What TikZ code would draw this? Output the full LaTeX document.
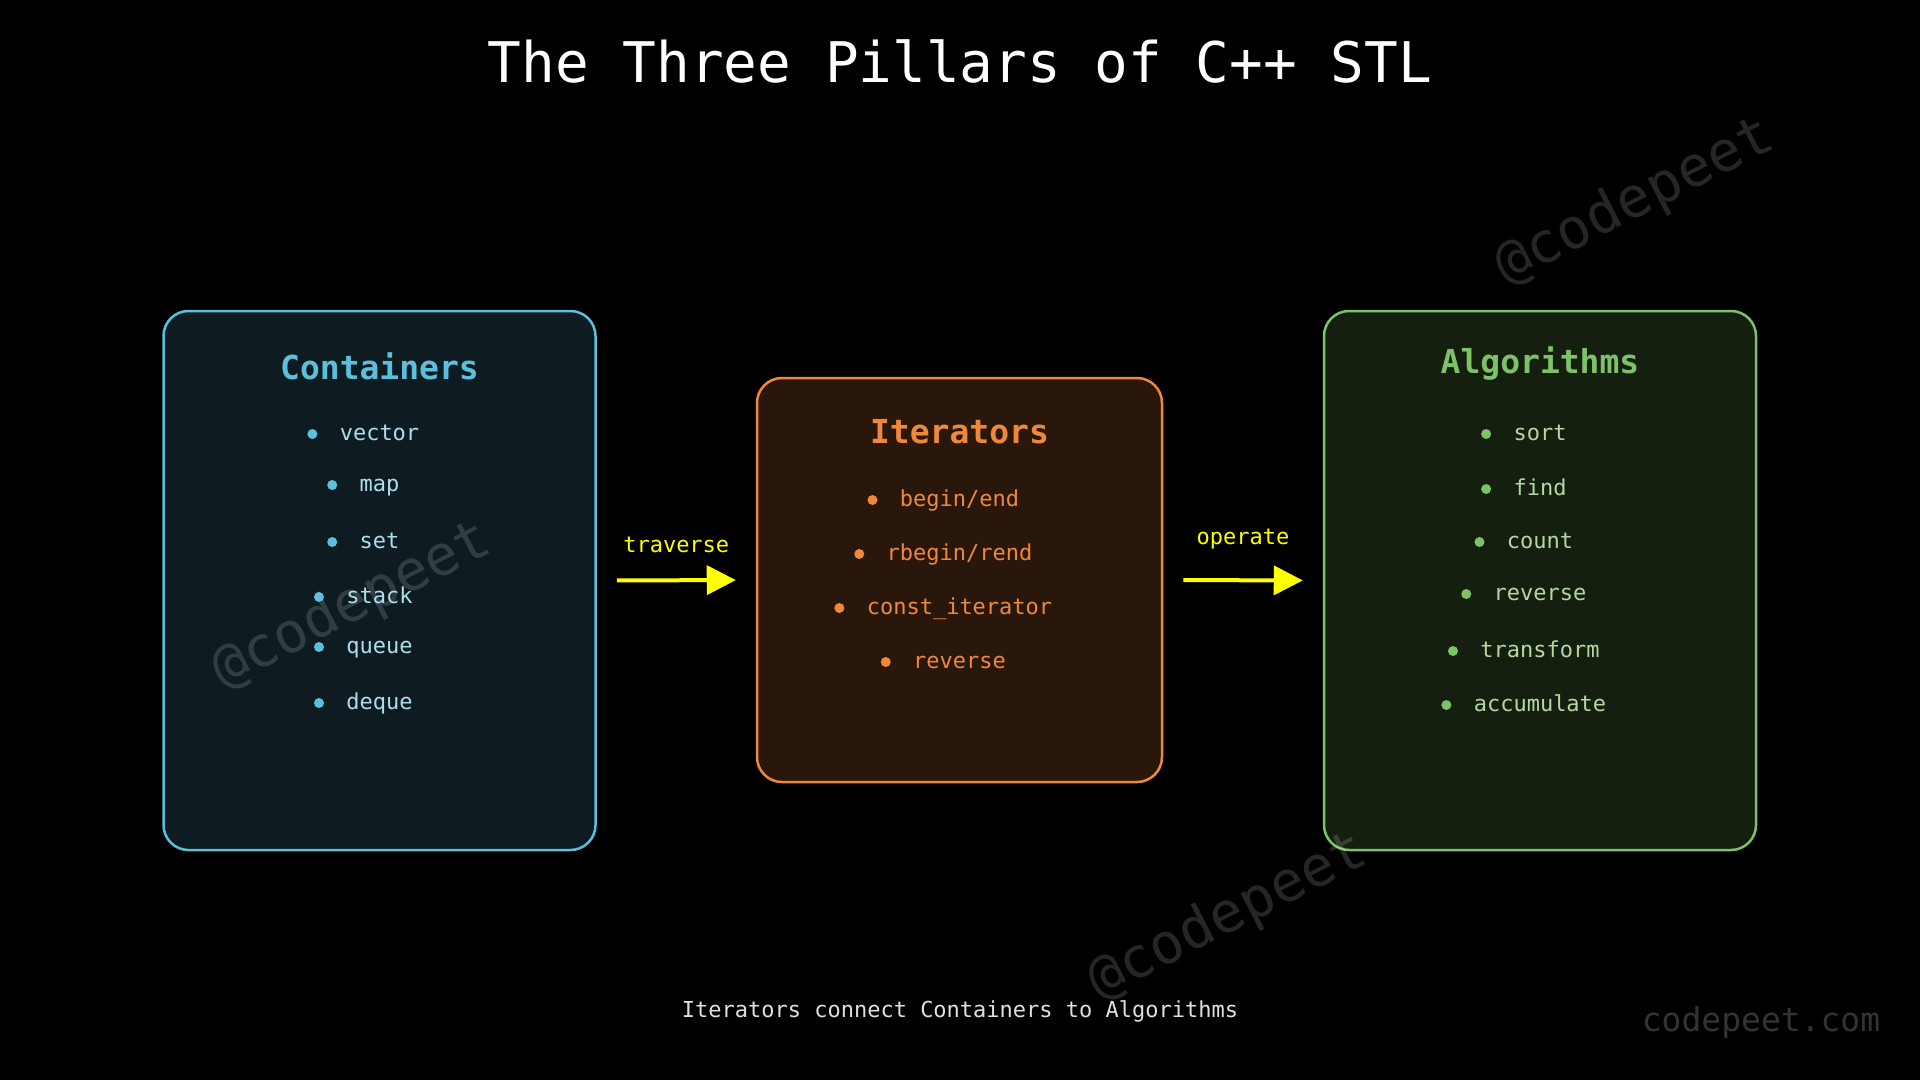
\documentclass[tikz,border=0pt]{standalone}
\usepackage{fontspec}
\setmonofont{DejaVu Sans Mono}
\renewcommand{\familydefault}{\ttdefault}
\usetikzlibrary{arrows.meta}
\definecolor{contline}{RGB}{91,192,222}
\definecolor{contfill}{RGB}{14,28,33}
\definecolor{contitem}{RGB}{172,222,236}
\definecolor{iterline}{RGB}{240,136,60}
\definecolor{iterfill}{RGB}{42,23,11}
\definecolor{algoline}{RGB}{126,194,104}
\definecolor{algofill}{RGB}{21,31,16}
\definecolor{algoitem}{RGB}{180,216,160}
\definecolor{flowyellow}{RGB}{255,255,0}
\begin{document}
\begin{tikzpicture}[x=1pt,y=-1pt,
  pillar/.style={draw=#1line, fill=#1fill, line width=2.5pt, rounded corners=25pt},
  head/.style={text=#1line, font=\fontsize{33}{38}\selectfont\bfseries},
  entry/.style 2 args={text=#1, inner sep=0pt, font=\fontsize{22}{26}\selectfont,
    text height=16.5pt, text depth=4.4pt,
    label={[circle, fill=#2, inner sep=0pt, minimum size=10pt, label distance=22pt]left:{}}},
  flow/.style={draw=flowyellow, line width=4pt, -{Triangle[length=29pt,width=29pt]},
    shorten <=20pt, shorten >=20pt},
  flowtag/.style={text=flowyellow, font=\fontsize{22}{26}\selectfont},
  wmark/.style={rotate=27, text=white, text opacity=0.15, font=\fontsize{56}{64}\selectfont}]
\fill[black] (0,0) rectangle (1920,1080);
\node[text=white, font=\fontsize{56}{64}\selectfont] (title) at (960,61) {The Three Pillars of C++ STL};
\node[pillar=cont, minimum width=432pt, minimum height=539pt] (cont) at (379.5,580.5) {};
\node[pillar=iter, minimum width=405pt, minimum height=404pt] (iter) at (959.5,580) {};
\node[pillar=algo, minimum width=432pt, minimum height=539pt] (algo) at (1540,580.5) {};
\node[wmark] (wm1) at (1635,202) {@codepeet};
\node[wmark] (wm2) at (352,606) {@codepeet};
\node[wmark] (wm3) at (1228,917) {@codepeet};
\node[head=cont] (conthead) at (379.5,366) {Containers};
\node[entry={contitem}{contline}] (c1) at (379.5,434) {vector};
\node[entry={contitem}{contline}] (c2) at (379.5,485) {map};
\node[entry={contitem}{contline}] (c3) at (379.5,542) {set};
\node[entry={contitem}{contline}] (c4) at (379.5,597) {stack};
\node[entry={contitem}{contline}] (c5) at (379.5,647) {queue};
\node[entry={contitem}{contline}] (c6) at (379.5,703) {deque};
\node[head=iter] (iterhead) at (959.5,432) {Iterators};
\node[entry={iterline}{iterline}] (i1) at (959.5,500) {begin/end};
\node[entry={iterline}{iterline}] (i2) at (959.5,554) {rbegin/rend};
\node[entry={iterline}{iterline}] (i3) at (959.5,608) {const\_iterator};
\node[entry={iterline}{iterline}] (i4) at (959.5,662) {reverse};
\node[head=algo] (algohead) at (1540,363) {Algorithms};
\node[entry={algoitem}{algoline}] (a1) at (1540,434) {sort};
\node[entry={algoitem}{algoline}] (a2) at (1540,489) {find};
\node[entry={algoitem}{algoline}] (a3) at (1540,542) {count};
\node[entry={algoitem}{algoline}] (a4) at (1540,594) {reverse};
\node[entry={algoitem}{algoline}] (a5) at (1540,651) {transform};
\node[entry={algoitem}{algoline}] (a6) at (1540,705) {accumulate};
\draw[flow] (cont.east) -- node[flowtag, above=22pt] (trav) {traverse} (iter.west);
\draw[flow] (iter.east) -- node[flowtag, above=26pt] (oper) {operate} (algo.west);
\node[text=white!88!black, font=\fontsize{22}{26}\selectfont] (note) at (960,1011) {Iterators connect Containers to Algorithms};
\node[text=white!20!black, font=\fontsize{33}{38}\selectfont] (site) at (1761,1022) {codepeet.com};
\end{tikzpicture}
\end{document}
